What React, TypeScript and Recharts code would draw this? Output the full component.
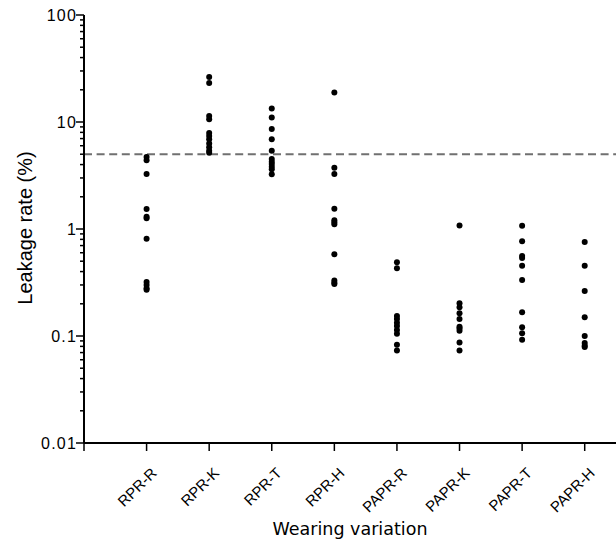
import React from 'react';
import { ScatterChart, Scatter, XAxis, YAxis, ReferenceLine } from 'recharts';

const categories = ['RPR-R', 'RPR-K', 'RPR-T', 'RPR-H', 'PAPR-R', 'PAPR-K', 'PAPR-T', 'PAPR-H'];

const rprR = [4.7, 4.4, 3.26, 1.54, 1.3, 1.26, 0.81, 0.32, 0.3, 0.28, 0.27];
const rprK = [26.4, 23.2, 11.4, 10.6, 7.9, 7.4, 6.9, 6.3, 5.8, 5.4, 5.15];
const rprT = [13.4, 11.0, 8.6, 6.9, 5.4, 4.5, 4.25, 4.05, 3.82, 3.61, 3.24];
const rprH = [18.9, 3.73, 3.26, 1.55, 1.21, 1.155, 1.11, 0.58, 0.33, 0.315, 0.306];
const paprR = [0.49, 0.43, 0.154, 0.144, 0.133, 0.124, 0.114, 0.105, 0.083, 0.073];
const paprK = [1.08, 0.202, 0.186, 0.163, 0.144, 0.122, 0.118, 0.112, 0.087, 0.073];
const paprT = [1.07, 0.77, 0.56, 0.536, 0.454, 0.334, 0.167, 0.121, 0.106, 0.092];
const paprH = [0.756, 0.454, 0.264, 0.15, 0.1, 0.086, 0.081, 0.079];

const seriesValues = [rprR, rprK, rprT, rprH, paprR, paprK, paprT, paprH];

const referenceValue = 5;

const xTicks = [0, 1, 2, 3, 4, 5, 6, 7, 8];
const majorYTicks = [0.01, 0.1, 1, 10, 100];
const majorYLabels = ['0.01', '0.1', '1', '10', '100'];
const minorYTicks = [
  0.02, 0.03, 0.04, 0.05, 0.06, 0.07, 0.08, 0.09,
  0.2, 0.3, 0.4, 0.5, 0.6, 0.7, 0.8, 0.9,
  2, 3, 4, 5, 6, 7, 8, 9,
  20, 30, 40, 50, 60, 70, 80, 90,
];
const allYTicks = [...majorYTicks, ...minorYTicks].sort((a, b) => a - b);

const points = seriesValues.flatMap((vals, i) => vals.map((v) => ({ x: i + 1, y: v })));

const YTick = (props: any) => {
  const { x, y, payload } = props;
  const idx = majorYTicks.indexOf(payload.value);
  const major = idx >= 0;
  return (
    <g>
      <line x1={x} x2={x - (major ? 8 : 4)} y1={y} y2={y} stroke="#000" strokeWidth={1.5} />
      {major && (
        <text
          x={x - 7}
          y={y}
          dy={6}
          textAnchor="end"
          fill="#000"
          style={{ fontFamily: 'Liberation Sans, Arial, sans-serif', fontSize: 16, letterSpacing: 1.2 }}
        >
          {majorYLabels[idx]}
        </text>
      )}
    </g>
  );
};

const XTick = (props: any) => {
  const { x, y, payload } = props;
  const v = payload.value;
  const label = v >= 1 ? categories[v - 1] : '';
  const tx = x + 11;
  const ty = y + 31;
  return (
    <g>
      <line x1={x} x2={x} y1={y} y2={y + 8} stroke="#000" strokeWidth={1.5} />
      {label && (
        <text
          x={tx}
          y={ty}
          textAnchor="end"
          fill="#000"
          transform={`rotate(-45, ${tx}, ${ty})`}
          style={{ fontFamily: 'Liberation Sans, Arial, sans-serif', fontSize: 15 }}
        >
          {label}
        </text>
      )}
    </g>
  );
};

const Dot = (props: any) => <circle cx={props.cx} cy={props.cy} r={3} fill="#000" />;

export default function App() {
  return (
    <div style={{ position: 'absolute', left: 0, top: 0, background: '#fff' }}>
      <ScatterChart width={616} height={543} margin={{ top: 15, right: 0, bottom: 0, left: 0 }}>
        <XAxis
          type="number"
          dataKey="x"
          domain={[0, 8.5]}
          ticks={xTicks}
          interval={0}
          allowDataOverflow
          height={100}
          tickSize={0}
          tickMargin={0}
          tickLine={false}
          tick={<XTick />}
          axisLine={{ stroke: '#000', strokeWidth: 2 }}
          label={{
            value: 'Wearing variation',
            position: 'insideBottom',
            offset: 8,
            fill: '#000',
            style: { fontFamily: 'DejaVu Sans, sans-serif', fontSize: 17.5 },
          }}
        />
        <YAxis
          type="number"
          dataKey="y"
          scale="log"
          domain={[0.01, 100]}
          ticks={allYTicks}
          interval={0}
          allowDataOverflow
          width={84}
          tickSize={0}
          tickMargin={0}
          tickLine={false}
          tick={<YTick />}
          axisLine={{ stroke: '#000', strokeWidth: 2 }}
          label={{
            content: () => (
              <text
                x={32}
                y={228}
                textAnchor="middle"
                fill="#000"
                transform="rotate(-90, 32, 228)"
                style={{ fontFamily: 'Liberation Sans, Arial, sans-serif', fontSize: 20 }}
              >
                Leakage rate (%)
              </text>
            ),
          }}
        />
        <ReferenceLine y={referenceValue} stroke="#707070" strokeWidth={2} strokeDasharray="8 4.6" ifOverflow="extendDomain" />
        <Scatter data={points} shape={<Dot />} isAnimationActive={false} />
      </ScatterChart>
    </div>
  );
}
